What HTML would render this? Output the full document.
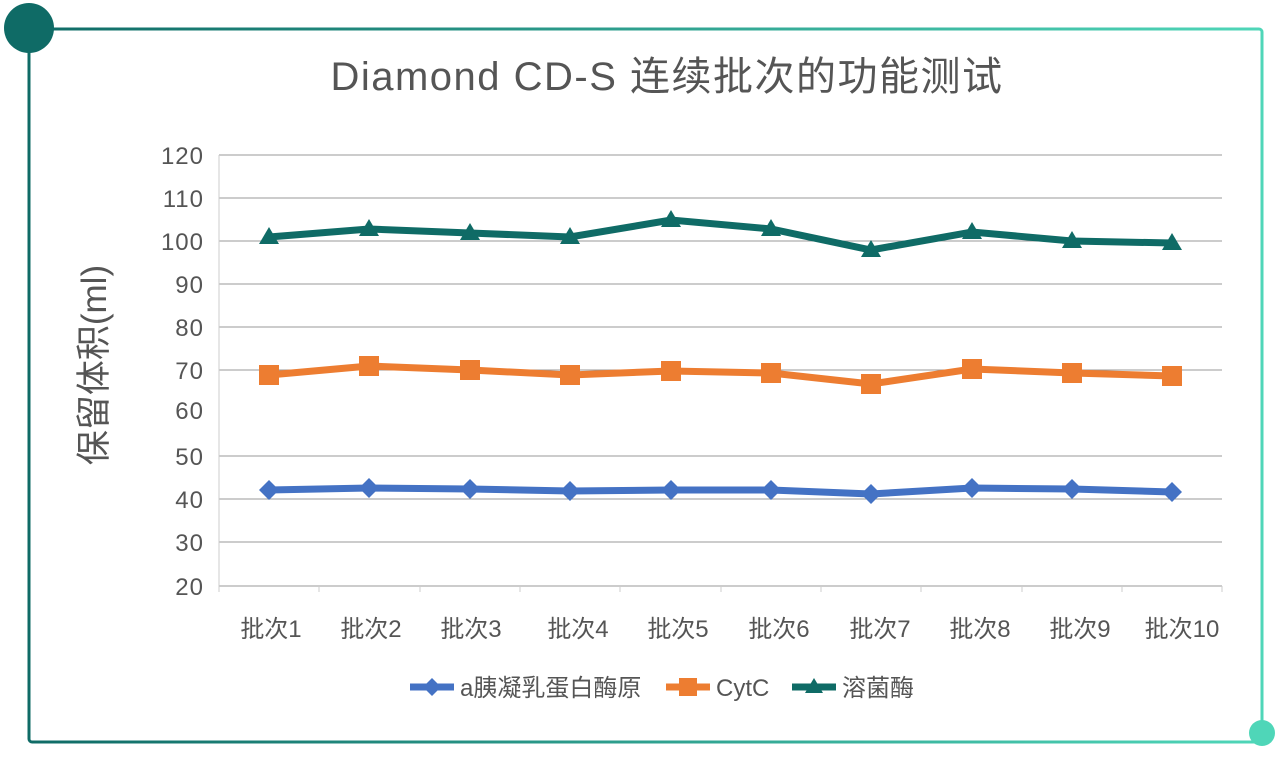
<!DOCTYPE html>
<html><head><meta charset="utf-8"><style>
body{margin:0;background:#fff;}
svg{display:block;font-family:"Liberation Sans","Noto Sans CJK SC",sans-serif;}
</style></head><body>
<svg width="1280" height="772" viewBox="0 0 1280 772">
<defs><linearGradient id="g" x1="0" x2="1"><stop offset="0" stop-color="#0f6b66"/><stop offset="1" stop-color="#4fd6b8"/></linearGradient></defs>
<rect x="29" y="29" width="1233" height="713" fill="none" stroke="url(#g)" stroke-width="3" rx="3"/>
<circle cx="29" cy="28" r="25" fill="#0f6b66"/>
<circle cx="1262" cy="733" r="13" fill="#4fd6b8"/>
<text x="667" y="90" text-anchor="middle" font-size="40" letter-spacing="1.5" fill="#555">Diamond CD-S 连续批次的功能测试</text>
<g stroke="#999" stroke-width="1">
<line x1="219" x2="1222" y1="155" y2="155"/><line x1="219" x2="1222" y1="198" y2="198"/>
<line x1="219" x2="1222" y1="241" y2="241"/><line x1="219" x2="1222" y1="284" y2="284"/>
<line x1="219" x2="1222" y1="327" y2="327"/><line x1="219" x2="1222" y1="370" y2="370"/>
<line x1="219" x2="1222" y1="456" y2="456"/><line x1="219" x2="1222" y1="499" y2="499"/>
<line x1="219" x2="1222" y1="542" y2="542"/><line x1="219" x2="1222" y1="586" y2="586"/>
<line x1="219" x2="219" y1="155" y2="592" stroke="#ccc"/>
</g>
<g stroke="#ccc"><line x1="319" x2="319" y1="586" y2="592"/><line x1="420" x2="420" y1="586" y2="592"/><line x1="520" x2="520" y1="586" y2="592"/><line x1="620" x2="620" y1="586" y2="592"/><line x1="721" x2="721" y1="586" y2="592"/><line x1="821" x2="821" y1="586" y2="592"/><line x1="921" x2="921" y1="586" y2="592"/><line x1="1022" x2="1022" y1="586" y2="592"/><line x1="1122" x2="1122" y1="586" y2="592"/><line x1="1222" x2="1222" y1="586" y2="592"/></g>
<g font-size="24" fill="#555" text-anchor="end" letter-spacing="1">
<text x="204" y="164">120</text><text x="204" y="207">110</text><text x="204" y="250">100</text><text x="204" y="293">90</text><text x="204" y="336">80</text><text x="204" y="379">70</text><text x="204" y="419">60</text><text x="204" y="465">50</text><text x="204" y="508">40</text><text x="204" y="551">30</text><text x="204" y="595">20</text>
</g>
<text transform="translate(106,365) rotate(-90)" text-anchor="middle" font-size="35" fill="#555">保留体积(ml)</text>
<g font-size="24" fill="#555" text-anchor="middle">
<text x="271" y="637">批次1</text><text x="371" y="637">批次2</text><text x="471" y="637">批次3</text><text x="578" y="637">批次4</text><text x="678" y="637">批次5</text><text x="779" y="637">批次6</text><text x="880" y="637">批次7</text><text x="980" y="637">批次8</text><text x="1080" y="637">批次9</text><text x="1182" y="637">批次10</text>
</g>
<polyline fill="none" stroke="#4472c4" stroke-width="7" points="269,490 369,488 470,489 570,491 671,490 771,490 871,494 972,488 1072,489 1172,492"/>
<g fill="#4472c4"><path d="M269,480l10,10-10,10-10-10z"/><path d="M369,478l10,10-10,10-10-10z"/><path d="M470,479l10,10-10,10-10-10z"/><path d="M570,481l10,10-10,10-10-10z"/><path d="M671,480l10,10-10,10-10-10z"/><path d="M771,480l10,10-10,10-10-10z"/><path d="M871,484l10,10-10,10-10-10z"/><path d="M972,478l10,10-10,10-10-10z"/><path d="M1072,479l10,10-10,10-10-10z"/><path d="M1172,482l10,10-10,10-10-10z"/></g>
<polyline fill="none" stroke="#ed7d31" stroke-width="7" points="269,375 369,366 470,370 570,375 671,371 771,373 871,384 972,369 1072,373 1172,376"/>
<g fill="#ed7d31"><rect x="259" y="365" width="20" height="20"/><rect x="359" y="356" width="20" height="20"/><rect x="460" y="360" width="20" height="20"/><rect x="560" y="365" width="20" height="20"/><rect x="661" y="361" width="20" height="20"/><rect x="761" y="363" width="20" height="20"/><rect x="861" y="374" width="20" height="20"/><rect x="962" y="359" width="20" height="20"/><rect x="1062" y="363" width="20" height="20"/><rect x="1162" y="366" width="20" height="20"/></g>
<polyline fill="none" stroke="#0f6b66" stroke-width="7" points="269,237 369,229 470,233 570,237 671,220 771,229 871,250 972,232 1072,241 1172,243"/>
<g fill="#0f6b66"><path d="M269,227l10,17h-20z"/><path d="M369,219l10,17h-20z"/><path d="M470,223l10,17h-20z"/><path d="M570,227l10,17h-20z"/><path d="M671,210l10,17h-20z"/><path d="M771,219l10,17h-20z"/><path d="M871,240l10,17h-20z"/><path d="M972,222l10,17h-20z"/><path d="M1072,231l10,17h-20z"/><path d="M1172,233l10,17h-20z"/></g>
<line x1="410" x2="454" y1="687" y2="687" stroke="#4472c4" stroke-width="7"/><path d="M432,678l9,9-9,9-9-9z" fill="#4472c4"/>
<text x="460" y="696" font-size="24" fill="#555">a胰凝乳蛋白酶原</text>
<line x1="666" x2="710" y1="687" y2="687" stroke="#ed7d31" stroke-width="7"/><rect x="679" y="678" width="18" height="18" fill="#ed7d31"/>
<text x="716" y="696" font-size="24" fill="#555">CytC</text>
<line x1="792" x2="836" y1="687" y2="687" stroke="#0f6b66" stroke-width="7"/><path d="M814,678l9,15h-18z" fill="#0f6b66"/>
<text x="842" y="696" font-size="24" fill="#555">溶菌酶</text>
</svg>
</body></html>
